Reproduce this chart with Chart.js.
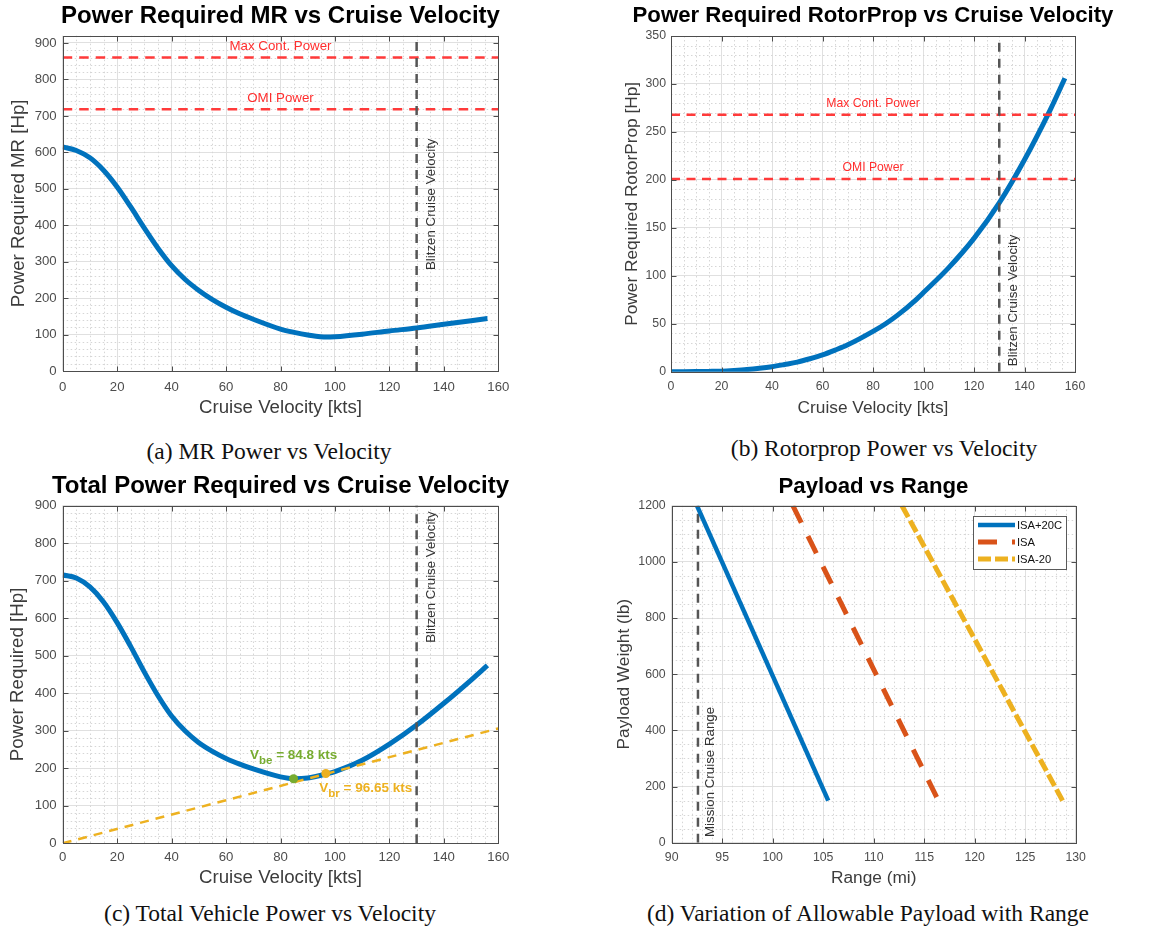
<!DOCTYPE html>
<html lang="en">
<head>
<meta charset="UTF-8" />
<meta name="viewport" content="width=device-width, initial-scale=1" />
<title>Blitzen Power Required and Payload-Range</title>
<style>
  body {
    margin: 0;
    background: #fff;
    width: 1164px;
    height: 936px;
    position: relative;
    overflow: hidden;
  }
  .panel {
    position: absolute;
  }
  .caption {
    position: absolute;
    font-family: "Liberation Serif", "Times New Roman", serif;
    font-size: 23.5px;
    line-height: 24px;
    color: #111;
    white-space: nowrap;
    transform: translateX(-50%);
  }
</style>
</head>
<body>

<div class="panel" style="left:0px;top:0px;width:561px;height:425px"><canvas id="mrChart"></canvas></div>
<div class="panel" style="left:600px;top:0px;width:546px;height:425px"><canvas id="rotorChart"></canvas></div>
<div class="panel" style="left:0px;top:470px;width:561px;height:428px"><canvas id="totalChart"></canvas></div>
<div class="panel" style="left:600px;top:470px;width:547px;height:428px"><canvas id="payloadChart"></canvas></div>

<div class="caption" style="left:269px;top:439px">(a) MR Power vs Velocity</div>
<div class="caption" style="left:884px;top:436px">(b) Rotorprop Power vs Velocity</div>
<div class="caption" style="left:270px;top:901px">(c) Total Vehicle Power vs Velocity</div>
<div class="caption" style="left:868px;top:901px">(d) Variation of Allowable Payload with Range</div>

<script src="https://cdn.jsdelivr.net/npm/chart.js"></script>
<script>
  // Cruise velocity sweep shared by the three power curves
  const velocityKts  = [0, 5, 10, 15, 20, 25, 30, 35, 40, 45, 50, 55, 60, 65, 70, 80, 85, 90, 97, 100, 110, 120, 130, 140, 150, 156];
  const mrPowerHp    = [615, 605, 585, 551, 505, 450, 392, 337, 289, 251, 221, 196, 175, 157, 142, 115, 106, 99, 93, 94, 101, 110, 118, 128, 138, 144];
  const rotorPowerHp = [0, 0, 0.1, 0.3, 0.6, 1.3, 2.2, 3.5, 5.2, 7.5, 10, 13.5, 17.5, 22.5, 28, 42, 50, 59.5, 75, 82.5, 108.5, 139, 176, 221, 272, 306];
  const totalPowerHp = [715, 707, 683, 643, 588, 524, 456, 393, 339, 299, 268, 245, 226, 211, 198, 177, 172, 174, 185, 191, 221, 264, 315, 373, 435, 474];

  // Engine limits
  const limitNames    = ['Max Cont. Power', 'OMI Power'];
  const mrLimitsHp    = [860, 718];
  const rotorLimitsHp = [268, 201];
  const cruiseKts     = 130;

  // Best endurance / best range points and the tangent from the origin
  const vbeKts = 84.8,  vbePowerHp = 172;
  const vbrKts = 96.65, vbrPowerHp = 186;
  const tangentKts = [0, 160];
  const tangentHp  = [0, 306];

  // Payload-range lines
  const payloadLb       = [1200, 150];
  const rangeIsaPlus20  = [92.5, 105.5];
  const rangeIsa        = [102.0, 116.4];
  const rangeIsaMinus20 = [112.8, 128.7];
  const missionRangeMi  = 92.6;
  const payloadSeries   = ['ISA+20C', 'ISA', 'ISA-20'];

  // Tick labels
  const velocityTicks = [0, 20, 40, 60, 80, 100, 120, 140, 160];
  const powerTicks    = [0, 100, 200, 300, 400, 500, 600, 700, 800, 900];
  const rotorTicks    = [0, 50, 100, 150, 200, 250, 300, 350];
  const rangeTicks    = [90, 95, 100, 105, 110, 115, 120, 125, 130];
  const payloadTicks  = [0, 200, 400, 600, 800, 1000, 1200];

  const BLUE = '#0072BD', ORANGE = '#EDB120', GREEN = '#77AC30', RED = '#D95319';
  const LIMIT_RED = '#ff3a3a', LIMIT_TEXT = '#ff2e2e', REF_GRAY = '#555555';
  const FONT = '"Liberation Sans", Arial, Helvetica, sans-serif';

  Chart.defaults.font.family = FONT;

  const pts = (xs, ys) => xs.map((x, i) => ({ x, y: ys[i] }));
  const hLine = (y, x0, x1) => [{ x: x0, y }, { x: x1, y }];
  const vLine = (x, y0, y1) => [{ x, y: y0 }, { x, y: y1 }];

  // MATLAB-style frame: dotted minor grid, boxed axes with inward ticks, text notes, legend
  const matlabAxes = {
    id: 'matlabAxes',
    beforeDatasetsDraw(chart, args, o) {
      if (!o.xMinor) return;
      const { ctx, chartArea: a, scales: { x, y } } = chart;
      const isMajor = (list, v) => list.some(t => Math.abs(t.value - v) < 1e-6);
      ctx.save();
      ctx.strokeStyle = '#d6d6d6';
      ctx.lineWidth = 1;
      ctx.setLineDash([1.5, 2.5]);
      ctx.beginPath();
      for (let v = x.min + o.xMinor; v < x.max - 1e-6; v += o.xMinor) {
        if (isMajor(x.ticks, v)) continue;
        const px = Math.round(x.getPixelForValue(v)) + 0.5;
        ctx.moveTo(px, a.top);
        ctx.lineTo(px, a.bottom);
      }
      for (let v = y.min + o.yMinor; v < y.max - 1e-6; v += o.yMinor) {
        if (isMajor(y.ticks, v)) continue;
        const py = Math.round(y.getPixelForValue(v)) + 0.5;
        ctx.moveTo(a.left, py);
        ctx.lineTo(a.right, py);
      }
      ctx.stroke();
      ctx.restore();
    },
    afterDatasetsDraw(chart, args, o) {
      if (!o.xMinor) return;
      const { ctx, chartArea: a, scales: { x, y } } = chart;
      ctx.save();

      // box and inward tick marks
      ctx.strokeStyle = '#4d4d4d';
      ctx.lineWidth = 1;
      ctx.setLineDash([]);
      const L = Math.round(a.left) + 0.5, R = Math.round(a.right) + 0.5;
      const T = Math.round(a.top) + 0.5, B = Math.round(a.bottom) + 0.5;
      ctx.strokeRect(L, T, R - L, B - T);
      ctx.beginPath();
      x.ticks.forEach(t => {
        const px = Math.round(x.getPixelForValue(t.value)) + 0.5;
        ctx.moveTo(px, B); ctx.lineTo(px, B - 5);
        ctx.moveTo(px, T); ctx.lineTo(px, T + 5);
      });
      y.ticks.forEach(t => {
        const py = Math.round(y.getPixelForValue(t.value)) + 0.5;
        ctx.moveTo(L, py); ctx.lineTo(L + 5, py);
        ctx.moveTo(R, py); ctx.lineTo(R - 5, py);
      });
      ctx.stroke();

      // text notes anchored to data coordinates
      (o.notes || []).forEach(n => {
        const px = x.getPixelForValue(n.x) + (n.dx || 0);
        const py = y.getPixelForValue(n.y) + (n.dy || 0);
        const weight = n.weight || 'normal';
        const parts = n.parts || [{ text: n.text }];
        const fontFor = p => `${weight} ${p.sub ? n.subSize : n.size}px ${FONT}`;
        const widths = parts.map(p => { ctx.font = fontFor(p); return ctx.measureText(p.text).width; });
        const total = widths.reduce((s, w) => s + w, 0);
        ctx.save();
        ctx.translate(px, py);
        if (n.rotate) ctx.rotate(n.rotate);
        ctx.fillStyle = n.color;
        ctx.textBaseline = 'middle';
        ctx.textAlign = 'left';
        let cx = n.align === 'center' ? -total / 2 : 0;
        parts.forEach((p, i) => {
          ctx.font = fontFor(p);
          ctx.fillText(p.text, cx, p.sub ? n.subShift : 0);
          cx += widths[i];
        });
        ctx.restore();
      });

      // legend box built from labelled datasets
      if (o.legend) {
        const lg = o.legend;
        const items = chart.data.datasets.filter(d => d.label);
        const bx = a.right - lg.right - lg.width, by = a.top + lg.top;
        ctx.fillStyle = '#fff';
        ctx.fillRect(bx, by, lg.width, lg.height);
        ctx.strokeStyle = '#5a5a5a';
        ctx.lineWidth = 1;
        ctx.strokeRect(Math.round(bx) + 0.5, Math.round(by) + 0.5, lg.width, lg.height);
        ctx.font = `${lg.size}px ${FONT}`;
        ctx.textBaseline = 'middle';
        ctx.textAlign = 'left';
        items.forEach((d, i) => {
          const ry = by + lg.firstRow + i * lg.rowGap;
          ctx.save();
          ctx.strokeStyle = d.borderColor;
          ctx.lineWidth = d.borderWidth;
          ctx.setLineDash(d.borderDash || []);
          ctx.beginPath();
          ctx.moveTo(bx + 5, ry);
          ctx.lineTo(bx + 42, ry);
          ctx.stroke();
          ctx.restore();
          ctx.fillStyle = '#111';
          ctx.fillText(d.label, bx + 44, ry + 0.5);
        });
      }
      ctx.restore();
    }
  };
  Chart.register(matlabAxes);

  // Builds options so the plot area lands on the requested box inside its canvas.
  // An empty right-hand axis reserves the right margin so the title stays centred.
  function panelOptions(p) {
    const titleLH = p.titleSize * 1.2;
    const titleBottom = p.plot.t - p.titleY - titleLH / 2;
    const titleTop = (p.plot.t - p.canvas.y) - titleLH - titleBottom;
    const labelLH = p.labelSize * 1.2;
    const xAxisH = p.canvas.y + p.canvas.h - p.plot.b;
    const yAxisW = p.plot.l - p.canvas.x;
    const rightW = p.canvas.x + p.canvas.w - p.plot.r;
    const fixedTicks = list => s => { s.ticks = list.map(v => ({ value: v })); };
    return {
      responsive: true,
      maintainAspectRatio: false,
      animation: false,
      layout: { padding: 0 },
      elements: { point: { radius: 0 }, line: { borderCapStyle: 'butt' } },
      plugins: {
        legend: { display: false },
        tooltip: { enabled: false },
        title: {
          display: true,
          text: p.title,
          color: '#000',
          font: { size: p.titleSize, weight: 'bold' },
          padding: { top: titleTop, bottom: titleBottom }
        },
        matlabAxes: { xMinor: p.xMinor, yMinor: p.yMinor, notes: p.notes, legend: p.legend }
      },
      scales: {
        x: {
          type: 'linear',
          min: p.xRange[0],
          max: p.xRange[1],
          afterBuildTicks: fixedTicks(p.xTicks),
          afterFit: s => { s.height = xAxisH; },
          border: { display: false },
          grid: { color: '#e0e0e0', drawTicks: false },
          ticks: { color: '#4d4d4d', font: { size: p.tickSize }, padding: p.xTickPad, maxRotation: 0, autoSkip: false, callback: v => String(v) },
          title: {
            display: true, text: p.xLabel, color: '#3c3c3c', font: { size: p.labelSize },
            padding: { top: 0, bottom: p.canvas.y + p.canvas.h - p.xLabelY - labelLH / 2 }
          }
        },
        y: {
          type: 'linear',
          min: p.yRange[0],
          max: p.yRange[1],
          afterBuildTicks: fixedTicks(p.yTicks),
          afterFit: s => { s.width = yAxisW; },
          border: { display: false },
          grid: { color: '#e0e0e0', drawTicks: false },
          ticks: { color: '#4d4d4d', font: { size: p.tickSize }, padding: p.yTickPad, autoSkip: false, includeBounds: false, callback: v => String(v) },
          title: {
            display: true, text: p.yLabel, color: '#3c3c3c', font: { size: p.labelSize },
            padding: { top: p.yLabelX - p.canvas.x - labelLH / 2, bottom: 0 }
          }
        },
        margin: {
          type: 'linear',
          position: 'right',
          afterFit: s => { s.width = rightW; },
          border: { display: false },
          grid: { display: false },
          ticks: { display: false }
        }
      }
    };
  }

  const rotated = -Math.PI / 2;
  const smooth = { cubicInterpolationMode: 'monotone' };

  // (a) main rotor power
  new Chart(document.getElementById('mrChart'), {
    type: 'line',
    data: {
      datasets: [
        { data: vLine(cruiseKts, 0, 920), borderColor: REF_GRAY, borderWidth: 2.5, borderDash: [9, 7] },
        { data: hLine(mrLimitsHp[0], 0, 160), borderColor: LIMIT_RED, borderWidth: 2.5, borderDash: [9.5, 7] },
        { data: hLine(mrLimitsHp[1], 0, 160), borderColor: LIMIT_RED, borderWidth: 2.5, borderDash: [9.5, 7] },
        { data: pts(velocityKts, mrPowerHp), borderColor: BLUE, borderWidth: 5, ...smooth }
      ]
    },
    options: panelOptions({
      canvas: { x: 0, y: 0, w: 561, h: 425 },
      plot: { l: 62.7, t: 35.7, r: 498.3, b: 371 },
      title: 'Power Required MR vs Cruise Velocity', titleSize: 24, titleY: 16,
      xLabel: 'Cruise Velocity [kts]', yLabel: 'Power Required MR [Hp]',
      labelSize: 18.7, xLabelY: 408, yLabelX: 19,
      tickSize: 13.2, xTickPad: 8, yTickPad: 6,
      xRange: [0, 160], yRange: [0, 920], xTicks: velocityTicks, yTicks: powerTicks,
      xMinor: 5, yMinor: 20,
      notes: [
        { x: 80, y: mrLimitsHp[0], dy: -11, text: limitNames[0], color: LIMIT_TEXT, size: 13.3, align: 'center' },
        { x: 80, y: mrLimitsHp[1], dy: -11, text: limitNames[1], color: LIMIT_TEXT, size: 13.3, align: 'center' },
        { x: cruiseKts, dx: 14.4, y: 277, text: 'Blitzen Cruise Velocity', color: '#333', size: 13.3, rotate: rotated }
      ]
    })
  });

  // (b) rotor-prop power
  new Chart(document.getElementById('rotorChart'), {
    type: 'line',
    data: {
      datasets: [
        { data: vLine(cruiseKts, 0, 350), borderColor: REF_GRAY, borderWidth: 2.5, borderDash: [9, 7] },
        { data: hLine(rotorLimitsHp[0], 0, 160), borderColor: LIMIT_RED, borderWidth: 2.5, borderDash: [9, 6.5] },
        { data: hLine(rotorLimitsHp[1], 0, 160), borderColor: LIMIT_RED, borderWidth: 2.5, borderDash: [9, 6.5] },
        { data: pts(velocityKts, rotorPowerHp), borderColor: BLUE, borderWidth: 5, ...smooth }
      ]
    },
    options: panelOptions({
      canvas: { x: 600, y: 0, w: 546, h: 425 },
      plot: { l: 671, t: 36, r: 1075, b: 371.7 },
      title: 'Power Required RotorProp vs Cruise Velocity', titleSize: 22.2, titleY: 16,
      xLabel: 'Cruise Velocity [kts]', yLabel: 'Power Required RotorProp [Hp]',
      labelSize: 17.3, xLabelY: 408, yLabelX: 632,
      tickSize: 12.3, xTickPad: 7.6, yTickPad: 5,
      xRange: [0, 160], yRange: [0, 350], xTicks: velocityTicks, yTicks: rotorTicks,
      xMinor: 5, yMinor: 10,
      notes: [
        { x: 80, y: rotorLimitsHp[0], dy: -11.5, text: limitNames[0], color: LIMIT_TEXT, size: 12.2, align: 'center' },
        { x: 80, y: rotorLimitsHp[1], dy: -11.5, text: limitNames[1], color: LIMIT_TEXT, size: 12.2, align: 'center' },
        { x: cruiseKts, dx: 13.8, y: 0, dy: -5.5, text: 'Blitzen Cruise Velocity', color: '#333', size: 13.3, rotate: rotated }
      ]
    })
  });

  // (c) total vehicle power with best-endurance and best-range speeds
  new Chart(document.getElementById('totalChart'), {
    type: 'line',
    data: {
      datasets: [
        { data: [{ x: vbeKts, y: vbePowerHp }], showLine: false, pointRadius: 4.5, pointBackgroundColor: GREEN, pointBorderWidth: 0 },
        { data: [{ x: vbrKts, y: vbrPowerHp }], showLine: false, pointRadius: 4.5, pointBackgroundColor: ORANGE, pointBorderWidth: 0 },
        { data: pts(tangentKts, tangentHp), borderColor: ORANGE, borderWidth: 2.5, borderDash: [9, 7] },
        { data: vLine(cruiseKts, 0, 900), borderColor: REF_GRAY, borderWidth: 2.5, borderDash: [9, 7] },
        { data: pts(velocityKts, totalPowerHp), borderColor: BLUE, borderWidth: 5, ...smooth }
      ]
    },
    options: panelOptions({
      canvas: { x: 0, y: 470, w: 561, h: 428 },
      plot: { l: 62.7, t: 505.5, r: 498.3, b: 843.3 },
      title: 'Total Power Required vs Cruise Velocity', titleSize: 24, titleY: 486.7,
      xLabel: 'Cruise Velocity [kts]', yLabel: 'Power Required [Hp]',
      labelSize: 18.7, xLabelY: 878, yLabelX: 18,
      tickSize: 13.2, xTickPad: 6.5, yTickPad: 6,
      xRange: [0, 160], yRange: [0, 900], xTicks: velocityTicks, yTicks: powerTicks,
      xMinor: 5, yMinor: 20,
      notes: [
        { x: cruiseKts, dx: 14.4, y: 534, text: 'Blitzen Cruise Velocity', color: '#333', size: 13.3, rotate: rotated },
        { x: vbeKts - 16, y: vbePowerHp + 63, color: GREEN, size: 13.5, subSize: 11.5, subShift: 6, weight: 'bold',
          parts: [{ text: 'V' }, { text: 'be', sub: true }, { text: ' = ' + vbeKts + ' kts' }] },
        { x: vbrKts - 2.4, y: vbrPowerHp - 39, color: ORANGE, size: 13.5, subSize: 11.5, subShift: 6, weight: 'bold',
          parts: [{ text: 'V' }, { text: 'br', sub: true }, { text: ' = ' + vbrKts + ' kts' }] }
      ]
    })
  });

  // (d) payload against range for three atmospheres
  new Chart(document.getElementById('payloadChart'), {
    type: 'line',
    data: {
      datasets: [
        { label: payloadSeries[0], data: pts(rangeIsaPlus20, payloadLb), borderColor: BLUE, borderWidth: 4.5 },
        { label: payloadSeries[1], data: pts(rangeIsa, payloadLb), borderColor: RED, borderWidth: 5, borderDash: [19, 15] },
        { label: payloadSeries[2], data: pts(rangeIsaMinus20, payloadLb), borderColor: ORANGE, borderWidth: 5, borderDash: [13, 4] },
        { data: vLine(missionRangeMi, 0, 1200), borderColor: REF_GRAY, borderWidth: 2.5, borderDash: [9, 7] }
      ]
    },
    options: panelOptions({
      canvas: { x: 600, y: 470, w: 547, h: 428 },
      plot: { l: 671.7, t: 505.7, r: 1075.7, b: 842.7 },
      title: 'Payload vs Range', titleSize: 22.2, titleY: 486.7,
      xLabel: 'Range (mi)', yLabel: 'Payload Weight (lb)',
      labelSize: 17.3, xLabelY: 878, yLabelX: 624,
      tickSize: 12.3, xTickPad: 7.6, yTickPad: 6,
      xRange: [90, 130], yRange: [0, 1200], xTicks: rangeTicks, yTicks: payloadTicks,
      xMinor: 1, yMinor: 50,
      notes: [
        { x: missionRangeMi, dx: 12.7, y: 0, dy: -5.7, text: 'Mission Cruise Range', color: '#333', size: 13.3, rotate: rotated }
      ],
      legend: { right: 9.7, top: 10.3, width: 93, height: 53, firstRow: 9, rowGap: 17, size: 11.2 }
    })
  });
</script>

</body>
</html>
